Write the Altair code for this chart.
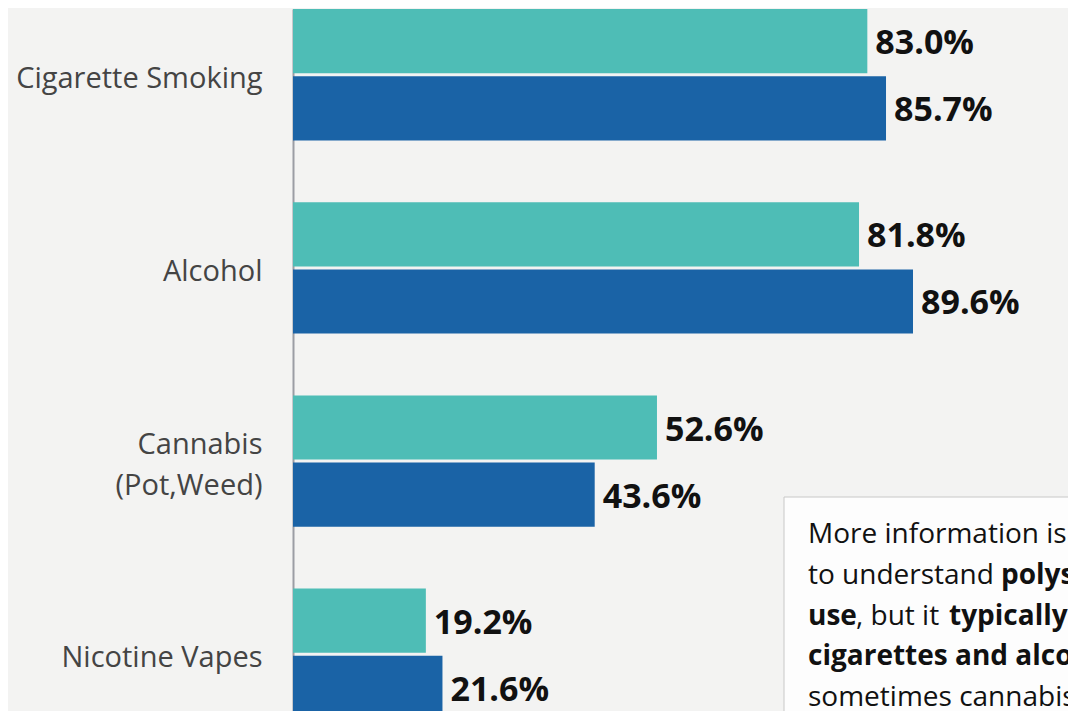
import altair as alt
import pandas as pd

categories = ["Cigarette Smoking", "Alcohol", "Cannabis|(Pot,Weed)", "Nicotine Vapes"]
series = ["Series 1", "Series 2"]
values_s1 = [83.0, 81.8, 52.6, 19.2]
values_s2 = [85.7, 89.6, 43.6, 21.6]
colors = ["#4ebdb6", "#1a63a6"]

rows = []
for c, a, b in zip(categories, values_s1, values_s2):
    rows.append({"category": c, "series": series[0], "value": a})
    rows.append({"category": c, "series": series[1], "value": b})
df = pd.DataFrame(rows)

note_lines = [
    [("More information is needed", "normal")],
    [("to understand", "normal"), ("polysubstance", "bold")],
    [("use", "bold"), (", but it", "normal"), ("typically", "bold"), ("involves", "normal")],
    [("cigarettes and alcohol", "bold")],
    [("sometimes cannabis.", "normal")],
]
# pixel x of each segment start inside plot, per line
seg_x = [[515], [515, 708], [515, 563, 656, 780], [515], [515]]
line_y = [526, 567, 608, 648, 689]

note_rows = []
for i, line in enumerate(note_lines):
    for j, (txt, w) in enumerate(line):
        note_rows.append({"t": txt, "w": w, "px": seg_x[i][j], "py": line_y[i]})
note_df = pd.DataFrame(note_rows)

FONT = "Open Sans"

y_enc = alt.Y("category:N", sort=categories,
              scale=alt.Scale(range=[0, 711], paddingInner=0.32, paddingOuter=0),
              axis=alt.Axis(title=None, ticks=False, labelPadding=31,
                            labelOffset={"condition": {"test": "indexof(datum.value, '|') >= 0", "value": -16},
                                         "value": 4},
                            labelFont=FONT, labelFontSize=29, labelColor="#444444", labelLimit=0,
                            labelLineHeight=41, labelExpr="split(datum.label, '|')",
                            domainColor="#9b9da4", domainWidth=2))
yoff = alt.YOffset("series:N", sort=series, scale=alt.Scale(paddingInner=0.045))
x_enc = alt.X("value:Q", scale=alt.Scale(domain=[0, 112], nice=False), axis=None)

bars = alt.Chart(df).mark_bar(cornerRadius=0).encode(
    y=y_enc, yOffset=yoff, x=x_enc,
    color=alt.Color("series:N", sort=series, scale=alt.Scale(domain=series, range=colors), legend=None),
)

labels = alt.Chart(df).transform_calculate(
    lbl="format(datum.value, '.1f') + '%'"
).mark_text(align="left", baseline="middle", dx=8, dy=3, font=FONT, fontSize=34,
            fontWeight="bold", color="#111111").encode(
    y=y_enc, yOffset=yoff, x=x_enc, text="lbl:N"
)

box = alt.Chart(pd.DataFrame({"a": [0]})).mark_rect(
    fill="#fdfdfd", stroke="#c8c8c8", strokeWidth=1
).encode(x=alt.value(491), x2=alt.value(1000), y=alt.value(488), y2=alt.value(900))

def note_layer(weight):
    return alt.Chart(note_df).transform_filter(
        alt.datum.w == weight
    ).mark_text(align="left", baseline="middle", font=FONT, fontSize=28,
                fontWeight=weight, color="#111111").encode(
        x=alt.X("px:Q", scale=None), y=alt.Y("py:Q", scale=None), text="t:N",
    )

chart = alt.layer(bars, labels, box, note_layer("normal"), note_layer("bold")).properties(
    width=775, height=702,
    autosize=alt.AutoSizeParams(type="none"),
    padding={"left": 285, "top": 1, "right": 0, "bottom": 0},
    background="#f3f3f2",
).configure_view(stroke=None).configure_axis(grid=False)

chart.save("out.html", embed_options={"renderer": "svg", "actions": False})
